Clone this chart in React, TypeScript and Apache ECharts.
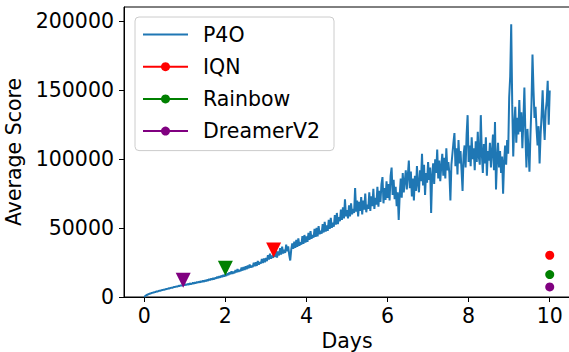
import React, { useEffect, useRef } from "react";
import * as echarts from "echarts";

const DAY_STEP = 0.025;
// P4O average score, one reading every 0.025 days from day 0 to day 10
const p4oScores = [
  // day 0-1
  0, 700, 1300, 1600, 2000, 2300, 2500, 2900, 3000, 3300,
  3500, 3600, 4000, 4000, 4300, 4500, 4600, 4900, 5000, 5300,
  5300, 5600, 5800, 5900, 6300, 6200, 6600, 6800, 6800, 7200,
  7200, 7500, 7600, 7700, 8100, 8000, 8400, 8300, 8500, 8900, 8600,
  // day 1-2
  9200, 8800, 9500, 9000, 9800, 9400, 9600, 10300, 9700, 10500,
  10100, 10900, 10400, 11200, 10600, 11400, 11000, 11900, 11100, 12000,
  11600, 12500, 11900, 13000, 12200, 13300, 12600, 13700, 12900, 14000,
  13400, 14600, 13700, 15000, 14100, 15500, 14500, 16000, 14900, 16300,
  // day 2-3
  15400, 17200, 15900, 17800, 16500, 18600, 16800, 18300, 17200, 19500,
  17900, 20200, 18300, 19600, 18800, 21300, 19200, 21800, 19600, 22400,
  20100, 22900, 20800, 23600, 21400, 22600, 21800, 24800, 22300, 25300,
  22600, 26200, 23400, 25400, 24200, 27600, 24600, 28000, 25200, 28400,
  // day 3-4
  26000, 30300, 27200, 31500, 27800, 30000, 28400, 32600, 29000, 33800,
  28600, 33000, 30200, 35500, 30800, 36500, 31500, 34200, 32000, 38000,
  33200, 36800, 30500, 26500, 34600, 38800, 35000, 40200, 35600, 41500,
  36400, 42500, 37200, 39800, 38000, 44200, 38600, 45000, 39500, 44000,
  // day 4-5
  40000, 46500, 41500, 47800, 42200, 45000, 43000, 49500, 43600, 50200,
  44000, 51500, 45500, 48000, 46000, 53000, 46800, 54500, 47500, 52000,
  48000, 56000, 49500, 57500, 50200, 54000, 51000, 59500, 52500, 61000,
  53000, 58000, 55000, 63500, 56000, 65000, 57000, 71000, 58500, 63000,
  // day 5-6
  57000, 66500, 58500, 68000, 60000, 64000, 61000, 79000, 62000, 70000,
  58500, 69000, 62500, 72500, 60000, 70000, 63500, 75000, 61500, 67000,
  64000, 76000, 62500, 73000, 66000, 78500, 64000, 72000, 67000, 80000,
  65500, 77000, 69000, 82000, 87000, 68000, 79000, 70500, 84000, 72000,
  // day 6-7
  82000, 70000, 88000, 94000, 74000, 85000, 71000, 80000, 66000, 76000,
  56000, 74000, 86000, 72000, 90000, 76000, 84000, 92000, 78000, 88000,
  99000, 79000, 91000, 73000, 86000, 70000, 88000, 77000, 95000, 82000,
  76000, 92000, 84000, 104000, 81000, 96000, 74000, 90000, 83000, 98000,
  // day 7-8
  85000, 94000, 61000, 88000, 97000, 82000, 100000, 90000, 107000, 86000,
  99000, 84000, 95000, 104000, 88000, 101000, 86000, 108000, 92000, 98000,
  90000, 70000, 96000, 104000, 112000, 119000, 95000, 108000, 89000, 114000,
  97000, 106000, 92000, 77000, 103000, 110000, 94000, 118000, 132000, 98000,
  // day 8-9
  110000, 95000, 116000, 100000, 108000, 92000, 113000, 98000, 120000, 102000,
  96000, 132000, 104000, 90000, 111000, 97000, 116000, 88000, 106000, 99000,
  112000, 94000, 105000, 118000, 92000, 127000, 78000, 100000, 112000, 94000,
  106000, 90000, 102000, 75000, 98000, 110000, 96000, 114000, 104000, 145000,
  // day 9-10
  160000, 198000, 140000, 102000, 125000, 138000, 112000, 130000, 118000, 143000,
  120000, 134000, 108000, 128000, 152000, 118000, 94000, 122000, 108000, 91000,
  118000, 140000, 176000, 150000, 130000, 138000, 122000, 110000, 124000, 97000,
  118000, 132000, 150000, 128000, 114000, 135000, 142000, 157000, 125000, 150000,
];

// Final scores of the baselines (shown at day 10)
const baselineNames = ["IQN", "Rainbow", "DreamerV2"];
const baselineColors = ["#ff0000", "#008000", "#800080"];
const baselineFinalDay = 10;
const baselineFinalScores = [30300, 16300, 7300];
// Where P4O reaches each baseline (triangle markers)
const crossingDays = [3.19, 2.0, 0.96];
const crossingScores = [34100, 20900, 12150];

const xTicks = [0, 2, 4, 6, 8, 10];
const yTicks = [0, 50000, 100000, 150000, 200000];

const FONT = "DejaVu Sans";

export default function App() {
  const ref = useRef<HTMLDivElement>(null);

  useEffect(() => {
    if (!ref.current) return;
    const chart = echarts.init(ref.current, null, { renderer: "svg" });

    const p4oData = p4oScores.map((v, i) => [i * DAY_STEP, v]);

    const series: any[] = [
      {
        name: "P4O",
        type: "line",
        data: p4oData,
        symbol: "none",
        showSymbol: false,
        lineStyle: { color: "#1f77b4", width: 2 },
        itemStyle: { color: "#1f77b4" },
        z: 2,
      },
    ];
    baselineNames.forEach((name, i) => {
      series.push({
        name,
        type: "line",
        data: [[baselineFinalDay, baselineFinalScores[i]]],
        symbol: "circle",
        symbolSize: 9,
        showSymbol: true,
        lineStyle: { color: baselineColors[i], width: 2 },
        itemStyle: { color: baselineColors[i] },
        z: 3,
      });
    });
    baselineNames.forEach((name, i) => {
      series.push({
        name: name + " reached",
        type: "scatter",
        data: [[crossingDays[i], crossingScores[i]]],
        symbol: "triangle",
        symbolRotate: 180,
        symbolSize: 15,
        itemStyle: { color: baselineColors[i], opacity: 1 },
        z: 4,
      });
    });

    chart.setOption({
      animation: false,
      textStyle: { fontFamily: FONT },
      grid: {
        left: 124,
        top: 7,
        width: 446,
        height: 290,
        show: true,
        borderColor: "#000",
        borderWidth: 1,
        containLabel: false,
        outerBoundsMode: "none",
      },
      legend: {
        data: [
          { name: "P4O", itemStyle: { opacity: 0 } },
          ...baselineNames,
        ],
        orient: "vertical",
        left: 135,
        top: 17,
        itemWidth: 45,
        itemHeight: 11.25,
        itemGap: 11.2,
        padding: [7, 14, 9, 7],
        backgroundColor: "rgba(255,255,255,0.8)",
        borderColor: "#cccccc",
        borderWidth: 1,
        borderRadius: 4,
        textStyle: {
          fontFamily: FONT,
          fontSize: 20.5,
          color: "#000",
          padding: [0, 0, 0, 10],
        },
      },
      xAxis: {
        type: "value",
        min: -0.5,
        max: 10.5,
        name: "Days",
        nameLocation: "middle",
        nameGap: 32,
        nameTextStyle: { fontFamily: FONT, fontSize: 20.5, color: "#000" },
        axisLine: { show: true, onZero: false, lineStyle: { color: "#000", width: 1 } },
        axisTick: {
          show: true,
          length: 5,
          lineStyle: { color: "#000" },
          customValues: xTicks,
        },
        axisLabel: {
          fontFamily: FONT,
          fontSize: 20.5,
          color: "#000",
          margin: 8,
          customValues: xTicks,
        },
        splitLine: { show: false },
      },
      yAxis: {
        type: "value",
        min: 0,
        max: 210500,
        name: "Average Score",
        nameLocation: "middle",
        nameGap: 99,
        nameTextStyle: { fontFamily: FONT, fontSize: 20.5, color: "#000" },
        axisLine: { show: true, onZero: false, lineStyle: { color: "#000", width: 1 } },
        axisTick: {
          show: true,
          length: 5,
          lineStyle: { color: "#000" },
          customValues: yTicks,
        },
        axisLabel: {
          fontFamily: FONT,
          fontSize: 20.5,
          color: "#000",
          margin: 10,
          customValues: yTicks,
          formatter: (v: number) => String(v),
        },
        splitLine: { show: false },
      },
      series,
    });

    return () => chart.dispose();
  }, []);

  return (
    <div
      ref={ref}
      style={{ position: "absolute", left: 0, top: 0, width: 569, height: 352 }}
    />
  );
}
